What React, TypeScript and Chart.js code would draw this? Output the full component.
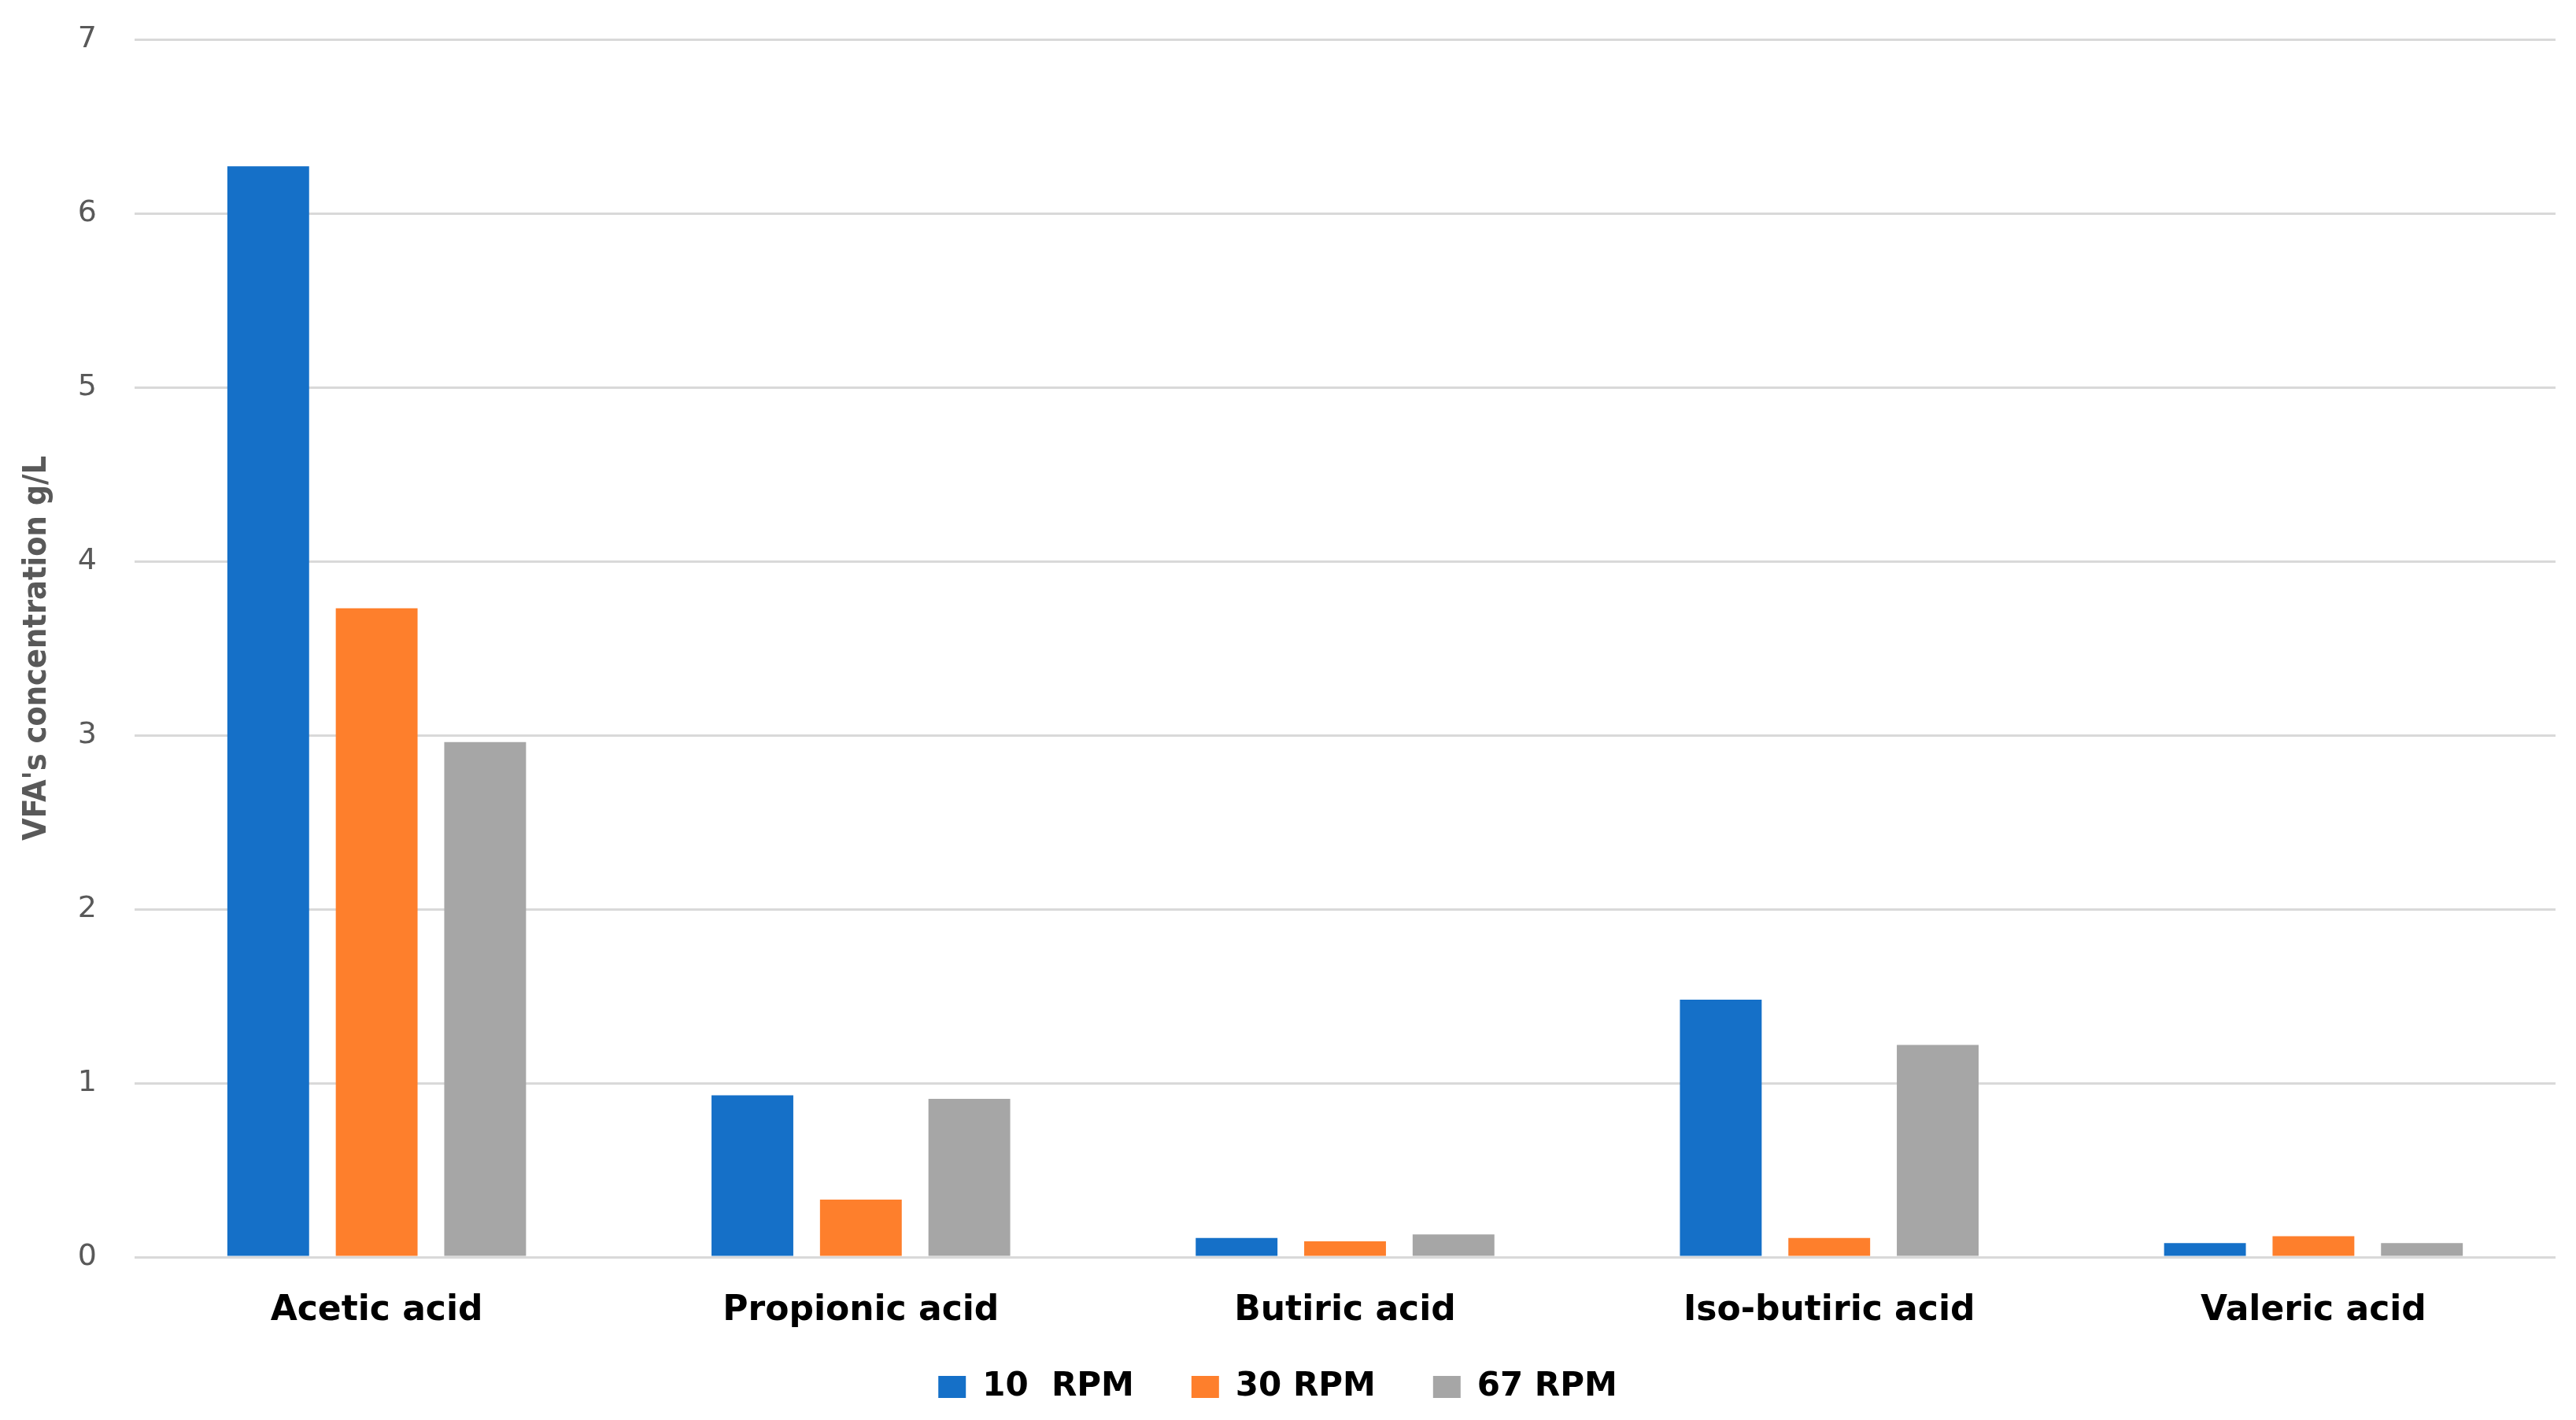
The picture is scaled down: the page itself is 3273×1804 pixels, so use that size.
import React, { useEffect, useRef } from "react";
import { Chart, registerables } from "chart.js";

Chart.register(...registerables);

const categories = ["Acetic acid", "Propionic acid", "Butiric acid", "Iso-butiric acid", "Valeric acid"];
const seriesLabels = ["10  RPM", "30 RPM", "67 RPM"];
const rpm10 = [6.27, 0.93, 0.11, 1.48, 0.08];
const rpm30 = [3.73, 0.33, 0.09, 0.11, 0.12];
const rpm67 = [2.96, 0.91, 0.13, 1.22, 0.08];
const seriesColors = ["#1570c8", "#fe7f2c", "#a6a6a6"];
const yTitle = "VFA's concentration g/L";
const yMin = 0;
const yMax = 7;
const yStep = 1;

const W = 3273;
const H = 1804;
const LEGEND_TOP = 1668;

const legendShift = {
  id: "legendShift",
  afterLayout(chart: any) {
    const lg = chart.legend;
    if (!lg) return;
    const h = lg.height;
    lg.top = LEGEND_TOP;
    lg.bottom = LEGEND_TOP + h;
  },
};

export default function App() {
  const ref = useRef<HTMLCanvasElement | null>(null);

  useEffect(() => {
    if (!ref.current) return;
    const values = [rpm10, rpm30, rpm67];
    const chart = new Chart(ref.current, {
      type: "bar",
      data: {
        labels: categories,
        datasets: values.map((v, i) => ({
          label: seriesLabels[i],
          data: v,
          backgroundColor: seriesColors[i],
          borderWidth: 0,
          barPercentage: 0.754,
          categoryPercentage: 0.672,
        })),
      },
      options: {
        responsive: false,
        animation: false,
        layout: { padding: { left: 0, right: 26, top: 50, bottom: -18 } },
        plugins: {
          tooltip: { enabled: false },
          legend: {
            position: "bottom",
            labels: {
              boxWidth: 35,
              boxHeight: 28,
              padding: 73,
              color: "#000000",
              font: { family: "'DejaVu Sans', sans-serif", size: 42, weight: "bold" },
            },
          },
        },
        scales: {
          x: {
            grid: { display: false },
            border: { display: false },
            ticks: {
              color: "#000000",
              padding: 34,
              font: { family: "'DejaVu Sans', sans-serif", size: 44, weight: "bold" },
            },
            afterFit: (scale: any) => {
              scale.height = 100;
            },
          },
          y: {
            min: yMin,
            max: yMax,
            grid: { color: "#d9d9d9", lineWidth: 3, drawTicks: true, tickLength: 40, tickColor: "rgba(0,0,0,0)" },
            border: { display: false },
            ticks: {
              stepSize: yStep,
              color: "#595959",
              padding: 8,
              font: { family: "'DejaVu Sans', sans-serif", size: 38 },
            },
            title: {
              display: true,
              text: yTitle,
              color: "#595959",
              padding: { top: 23, bottom: 0 },
              font: { family: "'DejaVu Sans Condensed', 'DejaVu Sans', sans-serif", size: 41, weight: "bold" },
            },
            afterFit: (scale: any) => {
              scale.width = 171;
            },
          },
        },
      },
      plugins: [legendShift],
    });
    return () => chart.destroy();
  }, []);

  return (
    <div style={{ position: "absolute", left: 0, top: 0, width: W, height: H, background: "#ffffff" }}>
      <canvas ref={ref} width={W} height={H} style={{ display: "block", width: W, height: H }} />
    </div>
  );
}
